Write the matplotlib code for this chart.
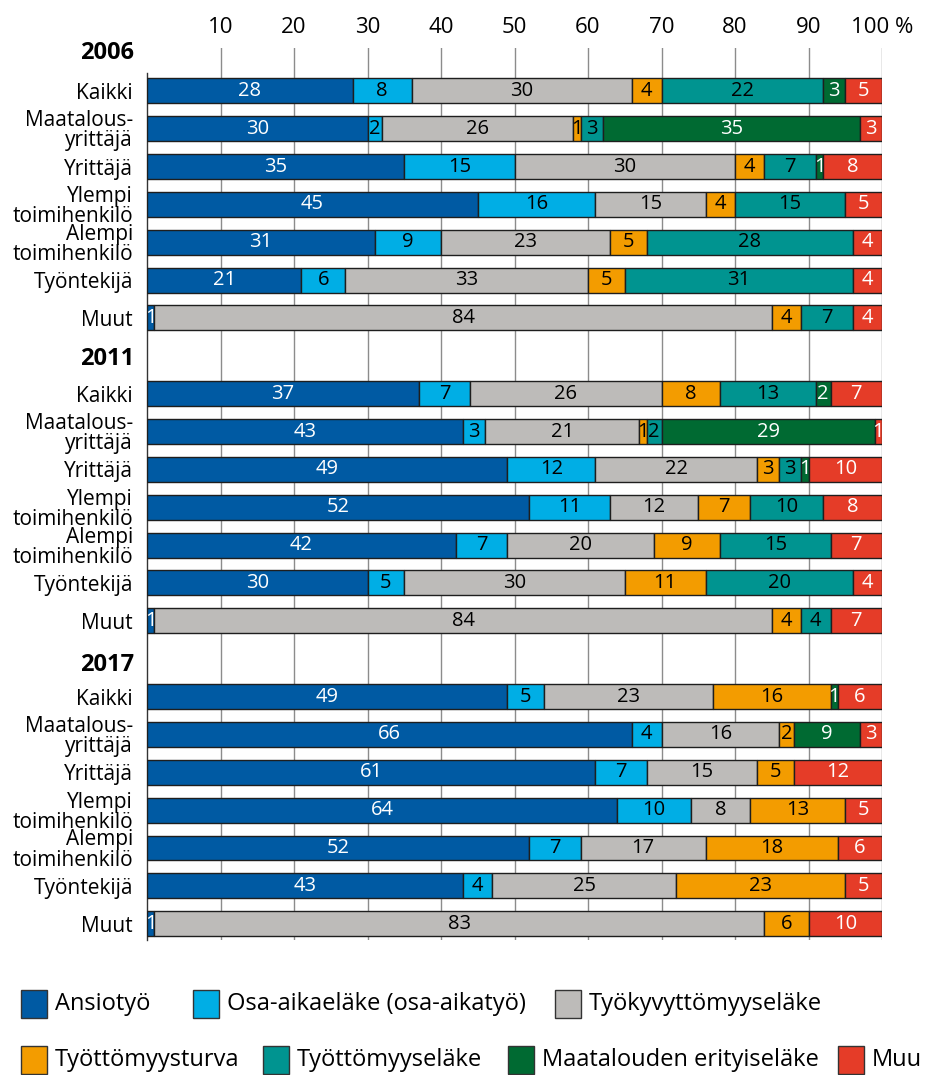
import numpy as np
import matplotlib
matplotlib.use('Agg')
import matplotlib.pyplot as plt
from matplotlib.patches import Rectangle

plt.rcParams['font.family'] = ['Open Sans', 'DejaVu Sans']

years = ['2006', '2011', '2017']
groups = ['Kaikki', 'Maatalous-\nyrittäjä', 'Yrittäjä', 'Ylempi\ntoimihenkilö',
          'Alempi\ntoimihenkilö', 'Työntekijä', 'Muut']
series = ['Ansiotyö', 'Osa-aikaeläke (osa-aikatyö)', 'Työkyvyttömyyseläke',
          'Työttömyysturva', 'Työttömyyseläke', 'Maatalouden erityiseläke', 'Muu']
colors = ['#005aa3', '#00aee5', '#bdbbb9', '#f39c00', '#009490', '#006a32', '#e53c28']
text_colors = ['white', 'black', 'black', 'black', 'black', 'white', 'white']

# rows: group order as above, columns: series order
data_2006 = [[28, 8, 30, 4, 22, 3, 5],
             [30, 2, 26, 1, 3, 35, 3],
             [35, 15, 30, 4, 7, 1, 8],
             [45, 16, 15, 4, 15, 0, 5],
             [31, 9, 23, 5, 28, 0, 4],
             [21, 6, 33, 5, 31, 0, 4],
             [1, 0, 84, 4, 7, 0, 4]]
data_2011 = [[37, 7, 26, 8, 13, 2, 7],
             [43, 3, 21, 1, 2, 29, 1],
             [49, 12, 22, 3, 3, 1, 10],
             [52, 11, 12, 7, 10, 0, 8],
             [42, 7, 20, 9, 15, 0, 7],
             [30, 5, 30, 11, 20, 0, 4],
             [1, 0, 84, 4, 4, 0, 7]]
data_2017 = [[49, 5, 23, 16, 0, 1, 6],
             [66, 4, 16, 2, 0, 9, 3],
             [61, 7, 15, 5, 0, 0, 12],
             [64, 10, 8, 13, 0, 0, 5],
             [52, 7, 17, 18, 0, 0, 6],
             [43, 4, 25, 23, 0, 0, 5],
             [1, 0, 83, 6, 0, 0, 10]]
all_data = [data_2006, data_2011, data_2017]

fig = plt.figure(figsize=(9.26, 10.75), dpi=100)
ax = fig.add_axes([147 / 926, 1 - 940 / 1075, 735 / 926, (940 - 48) / 1075])

ypos = []
ylabels = []
for gi, (yr, data) in enumerate(zip(years, all_data)):
    base = gi * 8
    ax.text(-1.7, base + 0.08 * gi, yr, ha='right', va='center', fontsize=17,
            fontweight='bold', clip_on=False)
    for ri, row in enumerate(data):
        y = base + 1 + ri
        ypos.append(y)
        ylabels.append(groups[ri])
        left = 0
        for si, v in enumerate(row):
            if v == 0:
                continue
            ax.barh(y, v, left=left, height=0.66, color=colors[si],
                    edgecolor='#1e1e1e', linewidth=1, zorder=3)
            ax.text(left + v / 2, y, str(v), ha='center', va='center',
                    color=text_colors[si], fontsize=14.5, zorder=4)
            left += v

ax.set_yticks(ypos)
ax.set_yticklabels(ylabels, fontsize=15, linespacing=0.95)
ax.set_ylim(23.43, -0.13)
ax.set_xlim(0, 100)
ax.set_xticks(np.arange(10, 101, 10))
ax.set_xticklabels([str(t) for t in range(10, 100, 10)] + ['100 %'], fontsize=16)
ax.xaxis.tick_top()
ax.tick_params(axis='both', length=0)
ax.tick_params(axis='x', pad=7)
ax.tick_params(axis='y', pad=10)
ax.grid(axis='x', color='#8c8c8c', linewidth=1, zorder=0)
for s in ['top', 'right', 'bottom']:
    ax.spines[s].set_visible(False)
ax.spines['left'].set_color('#333333')
ax.spines['left'].set_linewidth(1)
ax.spines['left'].set_bounds(0.52, 23.43)

# legend drawn by hand in two rows
legend_rows = [[(0, 21), (1, 193), (2, 555)],
               [(3, 21), (4, 263), (5, 508), (6, 838)]]
row_y = [1004, 1060]
for row, yc in zip(legend_rows, row_y):
    for si, xp in row:
        fig.add_artist(Rectangle((xp / 926, 1 - (yc + 14) / 1075), 26 / 926, 28 / 1075,
                                 facecolor=colors[si], edgecolor='#333333',
                                 linewidth=1, transform=fig.transFigure))
        fig.text((xp + 34) / 926, 1 - yc / 1075, series[si], ha='left',
                 va='center', fontsize=17)

fig.savefig('out.png', dpi=100)
